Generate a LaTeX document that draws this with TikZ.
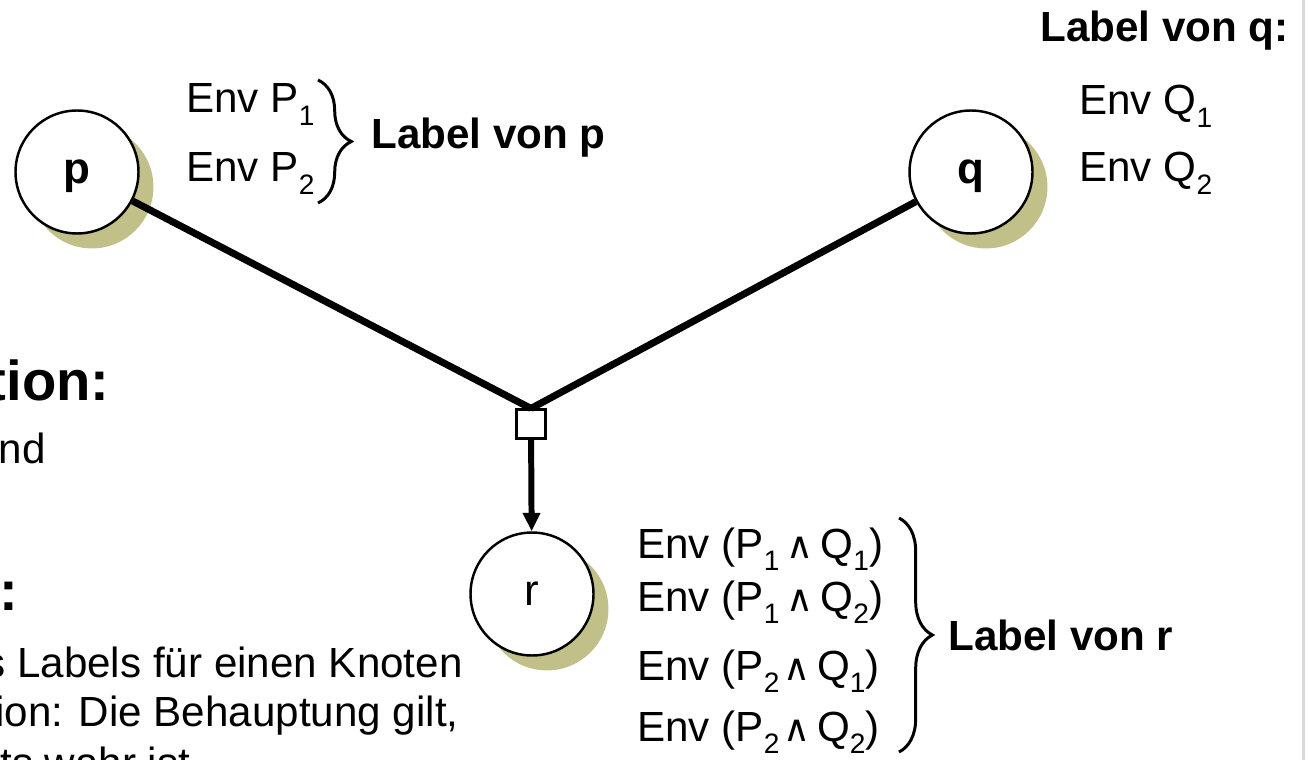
\documentclass[tikz,border=0pt]{standalone}
\usepackage{fontspec}
\setmainfont{Liberation Sans}
\newfontfamily\symfont{DejaVu Sans}
\usetikzlibrary{arrows.meta,shadows,decorations.pathreplacing}
\definecolor{khaki}{RGB}{192,192,136}
\definecolor{edgegray}{RGB}{217,217,217}
\newcommand{\subidx}[1]{\raisebox{-0.3em}{\fontsize{16}{16}\selectfont #1}}
\newcommand{\wedgesym}{{\symfont\fontsize{21}{21}\selectfont ∧}}
\tikzset{
  state/.style={circle,draw,line width=1.4pt,fill=white,minimum size=70pt,inner sep=0pt,
    font=\fontsize{25}{28}\selectfont,text depth=0pt,
    drop shadow={shadow xshift=8.5pt,shadow yshift=-8.5pt,fill=khaki,opacity=1}},
  envtext/.style={anchor=base west,inner sep=0pt,font=\fontsize{24}{28}\selectfont},
  labeltext/.style={anchor=base west,inner sep=0pt,font=\fontsize{24}{28}\selectfont\bfseries},
  curly/.style={decorate,decoration={brace,amplitude=#1},line width=1.7pt},
  edge/.style={line width=4pt},
}
\begin{document}
\begin{tikzpicture}[x=0.02cm,y=-0.02cm]
\clip (0,0) rectangle (1308,760);
\fill[white] (0,0) rectangle (1308,760);
\draw[edgegray,line width=1.7pt] (1303,0) -- (1303,760);

\node[state,font=\fontsize{25}{28}\selectfont\bfseries] (p) at (77,172) {p};
\node[state,font=\fontsize{25}{28}\selectfont\bfseries] (q) at (971,172) {q};
\node[state] (r) at (532,594) {r};
\node[draw,fill=white,line width=1.2pt,minimum size=16.5pt,inner sep=0pt] (join) at (531,424) {};

\draw[edge] (p) -- (join.north);
\draw[edge] (q) -- (join.north);
\draw[line width=3.4pt,-{Triangle[width=9.5pt,length=10.5pt]}] (join) -- (r);

\node[envtext] (p1) at (186,113) {Env P\subidx{1}};
\node[envtext] (p2) at (186,182) {Env P\subidx{2}};
\coordinate (pt) at (318,80);
\coordinate (pb) at (318,203);
\draw[curly=19pt] (pt) -- (pb);
\node[labeltext] (lp) at (371,149) {Label von p};

\node[labeltext] (lq) at (1040,42) {Label von q:};
\node[envtext] (q1) at (1079,115) {Env Q\subidx{1}};
\node[envtext] (q2) at (1079,182) {Env Q\subidx{2}};

\node[envtext] (r1) at (637,558) {Env (P\subidx{1}\,\wedgesym\,Q\subidx{1})};
\node[envtext] (r2) at (637,611) {Env (P\subidx{1}\,\wedgesym\,Q\subidx{2})};
\node[envtext] (r3) at (637,680) {Env (P\subidx{2}\kern2pt\wedgesym\,Q\subidx{1})};
\node[envtext] (r4) at (637,741) {Env (P\subidx{2}\kern2pt\wedgesym\,Q\subidx{2})};
\coordinate (rt) at (899,518);
\coordinate (rb) at (899,752);
\draw[curly=19pt] (rt) -- (rb);
\node[labeltext] (lr) at (948,650) {Label von r};

\node[anchor=base east,inner sep=0pt,font=\fontsize{32}{36}\selectfont\bfseries] (h1) at (110,400) {tion:};
\node[anchor=base east,inner sep=0pt,font=\fontsize{24}{28}\selectfont] (t0) at (46,463) {nd};
\node[anchor=base east,inner sep=0pt,font=\fontsize{32}{36}\selectfont\bfseries] (h2) at (19,610) {s:};
\node[anchor=base east,inner sep=0pt,font=\fontsize{24}{28}\selectfont] (t1) at (463,677) {s Labels für einen Knoten};
\node[anchor=base east,inner sep=0pt,font=\fontsize{24}{28}\selectfont] (t2) at (459,726) {ion: Die Behauptung gilt,};
\node[anchor=base west,inner sep=0pt,font=\fontsize{24}{28}\selectfont] (t3) at (0,777) {ts wahr ist};
\end{tikzpicture}
\end{document}
